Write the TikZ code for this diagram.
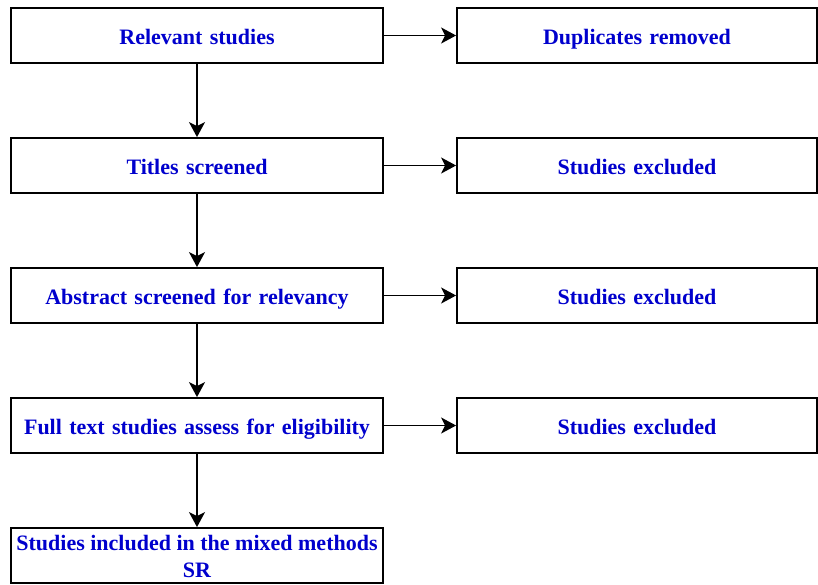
\documentclass[tikz,border=0pt]{standalone}
\usepackage{fontspec}
\setmainfont{Liberation Serif}
\usetikzlibrary{arrows.meta}
\definecolor{txtblue}{RGB}{0,0,205}
\tikzset{
  box/.style={draw=black, line width=1.8pt, fill=white, rectangle, inner sep=0pt,
    minimum height=55pt, align=center, font=\fontsize{22}{24}\selectfont\bfseries, text=txtblue},
  one/.style={text height=18pt, text depth=0pt},
  lbox/.style={box, minimum width=372pt, text width=370pt},
  rbox/.style={box, minimum width=360pt, text width=356pt},
  arr/.style={draw=black, line width=1.8pt, -{Stealth[length=15pt, width=16pt, inset=4pt]}}
}
\begin{document}
\begin{tikzpicture}[x=1pt, y=-1pt]
\useasboundingbox (0,0) rectangle (818,584);
\node[lbox,one] (a1) at (197,35.5) {Relevant studies};
\node[lbox,one] (a2) at (197,165.5) {Titles screened};
\node[lbox,one] (a3) at (197,295.5) {Abstract screened for relevancy};
\node[lbox,one] (a4) at (197,425.5) {Full text studies assess for eligibility};
\node[box, minimum width=372pt] (a5) at (197,555.5) {\raisebox{-3.5pt}[\height][\depth]{\begin{tabular}{@{}c@{}}Studies included in the mixed methods\\[3pt]SR\end{tabular}}};
\node[rbox,one] (b1) at (637,35.5) {Duplicates removed};
\node[rbox,one] (b2) at (637,165.5) {Studies excluded};
\node[rbox,one] (b3) at (637,295.5) {Studies excluded};
\node[rbox,one] (b4) at (637,425.5) {Studies excluded};
\draw[arr] (a1) -- (a2);
\draw[arr] (a2) -- (a3);
\draw[arr] (a3) -- (a4);
\draw[arr] (a4) -- (a5);
\draw[arr] (a1) -- (b1);
\draw[arr] (a2) -- (b2);
\draw[arr] (a3) -- (b3);
\draw[arr] (a4) -- (b4);
\end{tikzpicture}
\end{document}
